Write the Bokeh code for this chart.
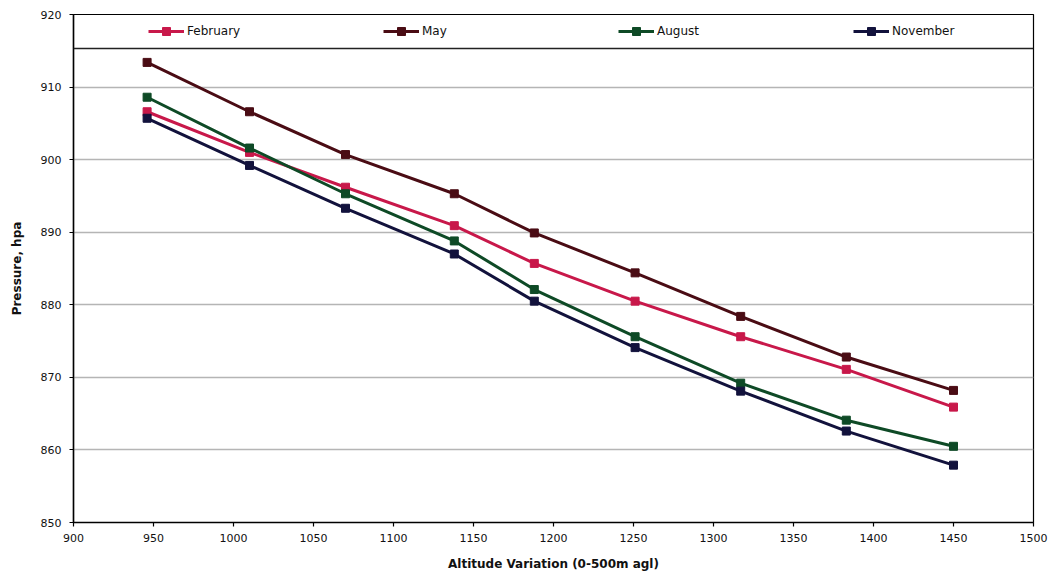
from bokeh.plotting import figure
from bokeh.models import Range1d, Legend, LegendItem, Span, FixedTicker
from bokeh.embed import file_html
from bokeh.resources import INLINE

# Altitude (m) and monthly mean pressure (hPa)
altitude = [946, 1010, 1070, 1138, 1188, 1251, 1317, 1383, 1450]
february = [906.6, 901.0, 896.2, 890.9, 885.7, 880.5, 875.6, 871.1, 865.9]
may = [913.4, 906.6, 900.7, 895.3, 889.9, 884.4, 878.4, 872.8, 868.2]
august = [908.6, 901.6, 895.3, 888.8, 882.1, 875.6, 869.2, 864.1, 860.5]
november = [905.7, 899.2, 893.3, 887.0, 880.5, 874.1, 868.1, 862.6, 857.9]

month_names = ["February", "May", "August", "November"]
x_ticks = list(range(900, 1501, 50))
y_ticks = list(range(850, 921, 10))

colors = ["#c8184a", "#4a0c14", "#0e4a26", "#12123c"]
series = [february, may, august, november]

FONT = "DejaVu Sans"

p = figure(
    width=1062, height=579,
    x_range=Range1d(900, 1500), y_range=Range1d(850, 920),
    output_backend="svg", toolbar_location=None,
    min_border_left=73, min_border_right=29,
    min_border_top=14, min_border_bottom=57,
)
p.background_fill_color = "white"
p.border_fill_color = "white"
p.outline_line_color = "black"
p.outline_line_width = 1.2

p.xgrid.visible = False
p.ygrid.grid_line_color = "#b5b5b5"
p.ygrid.grid_line_width = 1.5

p.xaxis.ticker = FixedTicker(ticks=x_ticks)
p.yaxis.ticker = FixedTicker(ticks=y_ticks)

for ax in (p.xaxis, p.yaxis):
    ax.axis_line_color = "black"
    ax.axis_line_width = 1.5
    ax.major_tick_line_color = "black"
    ax.major_tick_line_width = 1.2
    ax.major_tick_in = 0
    ax.major_tick_out = 4
    ax.minor_tick_line_color = None
    ax.major_label_text_font = FONT
    ax.major_label_text_font_size = "11px"
    ax.major_label_text_color = "#111111"
    ax.axis_label_text_font = FONT
    ax.axis_label_text_font_size = "12px"
    ax.axis_label_text_font_style = "bold"
    ax.axis_label_text_color = "#111111"

p.xaxis.axis_label = "Altitude Variation (0-500m agl)"
p.yaxis.axis_label = "Pressure, hpa"
p.xaxis.major_label_standoff = 7
p.xaxis.axis_label_standoff = 12
p.yaxis.major_label_standoff = 8
p.yaxis.axis_label_standoff = 14

items = []
for name, vals, col in zip(month_names, series, colors):
    ln = p.line(altitude, vals, line_color=col, line_width=3)
    sq = p.scatter(altitude, vals, marker="square", size=8,
                   fill_color=col, line_color=col)
    items.append(LegendItem(label=name, renderers=[ln, sq]))

legend = Legend(
    items=items,
    orientation="horizontal",
    location=(75, 481),
    padding=0,
    margin=0,
    spacing=96,
    glyph_width=36,
    glyph_height=20,
    label_standoff=3,
    label_width=100,
    label_height=20,
    label_text_font=FONT,
    label_text_font_size="12px",
    label_text_color="#111111",
    border_line_alpha=0,
    background_fill_alpha=0,
)
p.add_layout(legend, "center")

# bottom edge of the legend strip
p.add_layout(Span(location=48, location_units="canvas", dimension="width",
                  line_color="#222222", line_width=1.5))

open("out.html", "w").write(file_html(p, INLINE))
